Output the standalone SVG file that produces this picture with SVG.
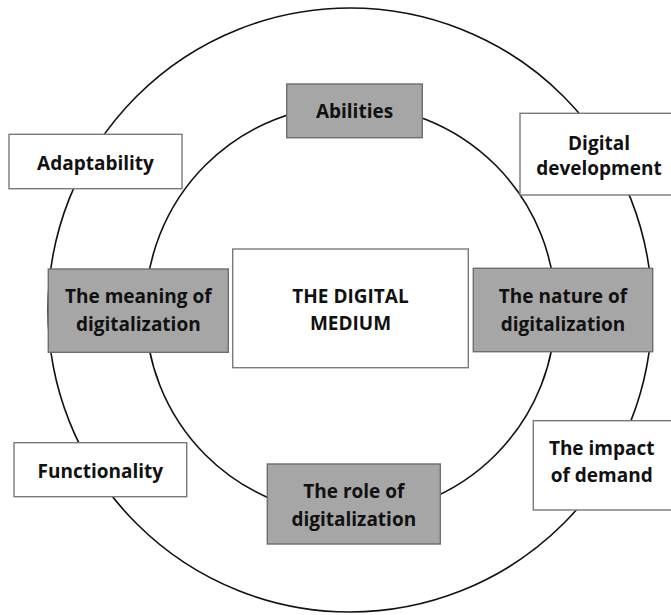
<svg xmlns="http://www.w3.org/2000/svg" width="671" height="615" viewBox="0 0 671 615">
<style>
.ring{fill:none;stroke:#111;stroke-width:1.6}
.grey{fill:#a6a6a6;stroke:#6e6e6e;stroke-width:1.4}
.white{fill:#fff;stroke:#7a7a7a;stroke-width:1.4}
text{font-family:"Open Sans","Liberation Sans",sans-serif;font-weight:700;font-size:19px;fill:#111;text-anchor:middle}
</style>
<rect width="671" height="615" fill="#fff"/>
<g id="connectors">
<circle class="ring" cx="350" cy="310" r="302"/>
<circle class="ring" cx="350.5" cy="310" r="205"/>
</g>
<g id="abilities"><rect class="grey" x="286.7" y="84" width="135.6" height="53.7"/><text x="354.5" y="118">Abilities</text></g>
<g id="adaptability"><rect class="white" x="9" y="134.3" width="173" height="54.4"/><text x="95.5" y="170">Adaptability</text></g>
<g id="digital-development"><rect class="white" x="520" y="113.3" width="152" height="81.7"/><text x="599" y="150">Digital</text><text x="599" y="175">development</text></g>
<g id="meaning"><rect class="grey" x="48.3" y="269" width="180" height="83.3"/><text x="138.3" y="303">The meaning of</text><text x="138.3" y="331">digitalization</text></g>
<g id="center"><rect class="white" x="232.7" y="249" width="235.6" height="118.7"/><text x="350.5" y="303">THE DIGITAL</text><text x="350.5" y="330">MEDIUM</text></g>
<g id="nature"><rect class="grey" x="473.3" y="268.3" width="179.4" height="83.4"/><text x="563" y="303">The nature of</text><text x="563" y="331">digitalization</text></g>
<g id="functionality"><rect class="white" x="14" y="442.7" width="172.7" height="54"/><text x="100.3" y="478">Functionality</text></g>
<g id="impact"><rect class="white" x="533.3" y="420.7" width="140" height="89.3"/><text x="601.7" y="455">The impact</text><text x="601.7" y="482">of demand</text></g>
<g id="role"><rect class="grey" x="267.3" y="464" width="173" height="80"/><text x="353.8" y="498">The role of</text><text x="353.8" y="526">digitalization</text></g>
</svg>
